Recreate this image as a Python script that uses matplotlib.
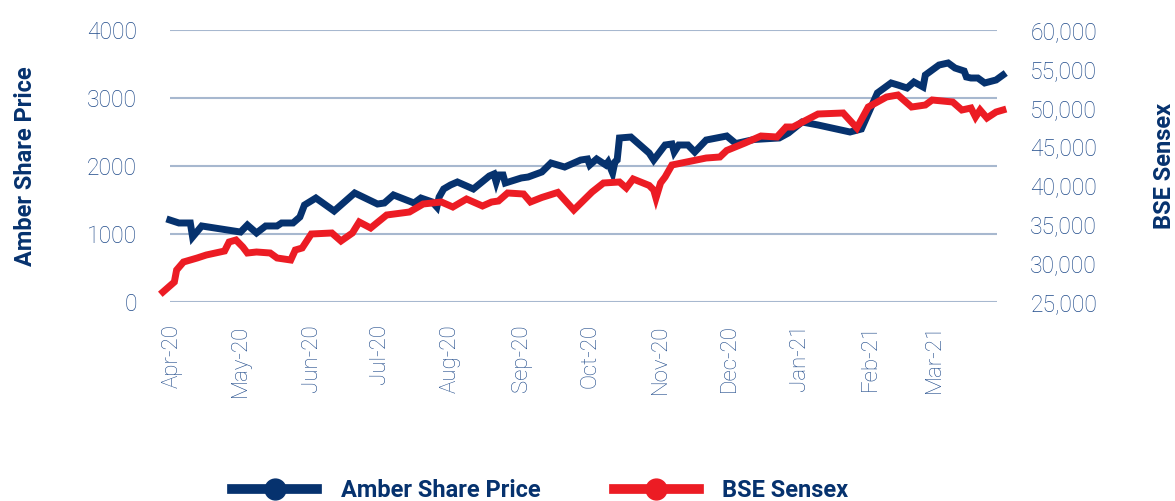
import matplotlib
matplotlib.use("Agg")
import matplotlib.pyplot as plt
import matplotlib.dates as mdates
from matplotlib.lines import Line2D
import pandas as pd

# Amber share price (left axis)
amber_dates = [
    "2020-03-31", "2020-04-04", "2020-04-09", "2020-04-10", "2020-04-14", "2020-05-01",
    "2020-05-04", "2020-05-08", "2020-05-12", "2020-05-17", "2020-05-19", "2020-05-24",
    "2020-05-27", "2020-05-29", "2020-06-03", "2020-06-11", "2020-06-20", "2020-06-30",
    "2020-07-03", "2020-07-07", "2020-07-16", "2020-07-19", "2020-07-24", "2020-07-26",
    "2020-07-27", "2020-07-29", "2020-08-01", "2020-08-04", "2020-08-11", "2020-08-18",
    "2020-08-20", "2020-08-21", "2020-08-22", "2020-08-24", "2020-08-25", "2020-09-01",
    "2020-09-04", "2020-09-10", "2020-09-14", "2020-09-20", "2020-09-23", "2020-09-27",
    "2020-09-30", "2020-10-01", "2020-10-04", "2020-10-08", "2020-10-09", "2020-10-11",
    "2020-10-12", "2020-10-13", "2020-10-14", "2020-10-19", "2020-10-27", "2020-10-29",
    "2020-11-03", "2020-11-06", "2020-11-07", "2020-11-09", "2020-11-13", "2020-11-16",
    "2020-11-21", "2020-11-30", "2020-12-04", "2020-12-12", "2020-12-23", "2020-12-27",
    "2021-01-02", "2021-01-09", "2021-01-23", "2021-01-28", "2021-02-04", "2021-02-10",
    "2021-02-13", "2021-02-17", "2021-02-20", "2021-02-24", "2021-02-25", "2021-03-03",
    "2021-03-07", "2021-03-10", "2021-03-14", "2021-03-15", "2021-03-17", "2021-03-20",
    "2021-03-23", "2021-03-28", "2021-03-31",
]
amber_price = [
    1206, 1162, 1162, 956, 1118, 1029,
    1132, 1015, 1118, 1118, 1162, 1162,
    1250, 1426, 1529, 1338, 1603, 1441,
    1456, 1574, 1456, 1529, 1471, 1397,
    1544, 1662, 1721, 1765, 1662, 1853,
    1882, 1765, 1868, 1868, 1750, 1824,
    1838, 1912, 2044, 1985, 2029, 2088,
    2103, 2015, 2103, 2015, 2059, 1897,
    2059, 2088, 2412, 2426, 2191, 2088,
    2309, 2324, 2206, 2309, 2309, 2206,
    2382, 2441, 2330, 2390, 2412, 2485,
    2647, 2603, 2500, 2544, 3074, 3221,
    3191, 3147, 3235, 3162, 3338, 3485,
    3515, 3441, 3397, 3309, 3294, 3294,
    3221, 3265, 3338,
]

# BSE Sensex (right axis)
sensex_dates = [
    "2020-03-28", "2020-04-02", "2020-04-03", "2020-04-06", "2020-04-12", "2020-04-16",
    "2020-04-24", "2020-04-26", "2020-04-29", "2020-05-02", "2020-05-04", "2020-05-08",
    "2020-05-14", "2020-05-17", "2020-05-23", "2020-05-25", "2020-05-28", "2020-06-01",
    "2020-06-10", "2020-06-14", "2020-06-19", "2020-06-22", "2020-06-27", "2020-07-04",
    "2020-07-14", "2020-07-20", "2020-07-28", "2020-08-02", "2020-08-08", "2020-08-15",
    "2020-08-19", "2020-08-22", "2020-08-26", "2020-09-02", "2020-09-05", "2020-09-10",
    "2020-09-17", "2020-09-24", "2020-10-02", "2020-10-07", "2020-10-14", "2020-10-17",
    "2020-10-20", "2020-10-27", "2020-10-29", "2020-10-30", "2020-11-01", "2020-11-03",
    "2020-11-06", "2020-11-21", "2020-11-27", "2020-11-30", "2020-12-08", "2020-12-15",
    "2020-12-22", "2020-12-26", "2020-12-29", "2021-01-09", "2021-01-20", "2021-01-26",
    "2021-01-31", "2021-02-08", "2021-02-13", "2021-02-19", "2021-02-25", "2021-02-28",
    "2021-03-09", "2021-03-13", "2021-03-17", "2021-03-19", "2021-03-21", "2021-03-24",
    "2021-03-28", "2021-03-31",
]
sensex_value = [
    26287, 27574, 29118, 30147, 30662, 31048,
    31562, 32721, 32978, 32077, 31305, 31434,
    31305, 30662, 30404, 31691, 31949, 33750,
    33879, 32849, 33879, 35294, 34522, 36195,
    36581, 37610, 37868, 37224, 38254, 37353,
    37868, 37996, 39026, 38897, 37868, 38450,
    39100, 36838, 39154, 40313, 40442, 39669,
    40827, 40000, 39412, 38382, 40313, 41085,
    42629, 43529, 43658, 44500, 45460, 46360,
    46232, 47518, 47518, 49191, 49320, 47390,
    50092, 51379, 51636, 50092, 50349, 50993,
    50735, 49706, 49963, 48804, 49706, 48676,
    49449, 49706,
]

left_ticks = [0, 1000, 2000, 3000, 4000]
right_ticks = [25000, 30000, 35000, 40000, 45000, 50000, 55000, 60000]

NAVY = "#06326e"
RED = "#ec1c24"
TICK_COLOR = "#1f4a8a"
GRID_COLOR = "#a7b8cf"

plt.rcParams["font.family"] = ["Roboto", "DejaVu Sans"]

fig = plt.figure(figsize=(11.75, 5.01), dpi=100)
ax = fig.add_axes([170 / 1175, (501 - 302) / 501, 827 / 1175, 272 / 501])
ax2 = ax.twinx()

x_amber = pd.to_datetime(amber_dates)
x_sensex = pd.to_datetime(sensex_dates)

ax.plot(x_amber, amber_price, color=NAVY, lw=5, solid_joinstyle="miter", clip_on=False, zorder=3)
ax2.plot(x_sensex, sensex_value, color=RED, lw=5, solid_joinstyle="miter", clip_on=False, zorder=3)

start = pd.Timestamp("2020-04-01")
ax.set_xlim(mdates.date2num(start) - 0.9, mdates.date2num(start) + 361.4)
ax.set_ylim(0, 4000)
ax2.set_ylim(25000, 60000)

ax.set_yticks(left_ticks)
ax2.set_yticks(right_ticks)
ax2.set_yticklabels([f"{v:,}" for v in right_ticks])

ax.xaxis.set_major_locator(mdates.MonthLocator())
ax.xaxis.set_major_formatter(mdates.DateFormatter("%b-%y"))

ax.grid(axis="y", color=GRID_COLOR, lw=1.5)
ax.set_axisbelow(True)
for a in (ax, ax2):
    for s in a.spines.values():
        s.set_visible(False)

ax.tick_params(axis="x", length=0, pad=16, labelsize=16, labelcolor=TICK_COLOR, labelrotation=90)
ax.tick_params(axis="y", length=0, pad=24, labelsize=16.5, labelcolor=TICK_COLOR)
ax2.tick_params(axis="y", length=0, pad=24, labelsize=16.5, labelcolor=TICK_COLOR)
for lab in ax.get_xticklabels() + ax.get_yticklabels() + ax2.get_yticklabels():
    lab.set_fontweight("light")

ax.set_ylabel("Amber Share Price", fontsize=17, fontweight="bold", color=NAVY, labelpad=36)
ax2.set_ylabel("BSE Sensex", fontsize=17, fontweight="bold", color=NAVY, labelpad=40)

handles = [
    Line2D([], [], color=NAVY, lw=7, marker="o", markersize=15),
    Line2D([], [], color=RED, lw=7, marker="o", markersize=15),
]
leg = fig.legend(handles, ["Amber Share Price", "BSE Sensex"], loc="center",
                 bbox_to_anchor=(0.46, 0.02), ncol=2, frameon=False,
                 handlelength=3.6, handletextpad=1.0, columnspacing=3.1,
                 prop={"size": 17, "weight": "bold"})
for t in leg.get_texts():
    t.set_color(NAVY)

fig.savefig("out.png", dpi=100)
